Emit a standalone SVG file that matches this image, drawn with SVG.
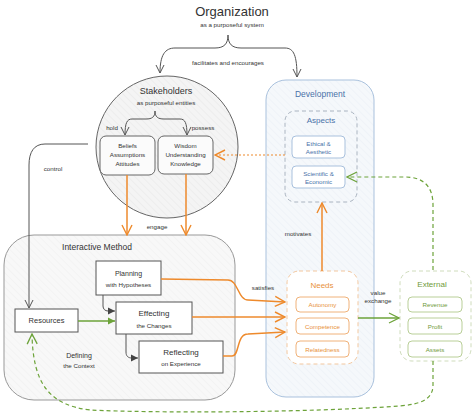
<svg xmlns="http://www.w3.org/2000/svg" width="474" height="419" viewBox="0 0 474 419">
<defs>
<style>
text{font-family:"Liberation Sans","DejaVu Sans",sans-serif;fill:#333;text-anchor:middle}
.t7{font-size:7px}
.t6{font-size:6.2px}
.t9{font-size:9px}
.box{fill:#fff;stroke:#555;stroke-width:1}
.gbox{fill:#fbfbfb;stroke:#666;stroke-width:1}
.obox{fill:#fff;stroke:#f0b27a;stroke-width:1}
.grbox{fill:#fff;stroke:#b9cf98;stroke-width:1}
.odash{fill:#fff;stroke:#f3c79e;stroke-width:1;stroke-dasharray:4 3}
.grdash{fill:#fff;stroke:#cfdcbc;stroke-width:1;stroke-dasharray:4 3}
.adash{fill:none;stroke:#aab4c0;stroke-width:1;stroke-dasharray:4 3}
.ln{fill:none;stroke:#555;stroke-width:1}
.or{fill:none;stroke:#ee8a2c;stroke-width:1.5}
.gr{fill:none;stroke:#6da33a;stroke-width:1.5}
.grd{fill:none;stroke:#6da33a;stroke-width:1.2;stroke-dasharray:4 3}
.ord{fill:none;stroke:#ee8a2c;stroke-width:1.2;stroke-dasharray:2 2}
.ot{fill:#e8913a}
.gt{fill:#6f9a3a}
.bt{fill:#4a72a8}
</style>
<pattern id="hatch" patternUnits="userSpaceOnUse" width="5" height="5" patternTransform="rotate(-45)">
<rect width="5" height="5" fill="#f4f4f4"/>
<line x1="0" y1="0" x2="0" y2="5" stroke="#e6e6e6" stroke-width="1"/>
</pattern>
<pattern id="hatchB" patternUnits="userSpaceOnUse" width="5" height="5" patternTransform="rotate(-45)">
<rect width="5" height="5" fill="#f5f8fb"/>
<line x1="0" y1="0" x2="0" y2="5" stroke="#e9eef5" stroke-width="1"/>
</pattern>
<pattern id="hatchL" patternUnits="userSpaceOnUse" width="5" height="5" patternTransform="rotate(-45)">
<rect width="5" height="5" fill="#f8f8f8"/>
<line x1="0" y1="0" x2="0" y2="5" stroke="#efefef" stroke-width="1"/>
</pattern>
<marker id="aG" markerWidth="10" markerHeight="10" refX="9" refY="5" orient="auto" markerUnits="userSpaceOnUse"><path d="M1,1 L9,5 L1,9" fill="none" stroke="#555" stroke-width="1"/></marker>
<marker id="aO" markerWidth="12" markerHeight="12" refX="11" refY="6" orient="auto" markerUnits="userSpaceOnUse"><path d="M1,1 L11,6 L1,11" fill="none" stroke="#ee8a2c" stroke-width="1.4"/></marker>
<marker id="aGr" markerWidth="12" markerHeight="12" refX="11" refY="6" orient="auto" markerUnits="userSpaceOnUse"><path d="M1,1 L11,6 L1,11" fill="none" stroke="#6da33a" stroke-width="1.3"/></marker>
<marker id="fG" markerWidth="8" markerHeight="8" refX="7" refY="4" orient="auto" markerUnits="userSpaceOnUse"><path d="M0,0.5 L7,4 L0,7.5 Z" fill="#444"/></marker>
<marker id="fGr" markerWidth="8" markerHeight="8" refX="7" refY="4" orient="auto" markerUnits="userSpaceOnUse"><path d="M0,0.5 L7,4 L0,7.5 Z" fill="#6da33a"/></marker>
</defs>
<rect width="474" height="419" fill="#fff"/>

<g id="organization">
<text x="232" y="16" style="font-size:13px">Organization</text>
<text x="232" y="27" class="t6">as a purposeful system</text>
</g>

<g id="interactive-method">
<rect x="4" y="235" width="231" height="165" rx="30" fill="url(#hatchL)" stroke="#999" stroke-width="1"/>
<text x="97" y="250" style="font-size:8.5px">Interactive Method</text>
<text x="79" y="358" class="t7">Defining</text>
<text x="79" y="368" class="t6">the Context</text>
</g>

<g id="development">
<rect x="266" y="80" width="108" height="317" rx="20" fill="url(#hatchB)" stroke="#a9c1dd" stroke-width="1"/>
<text x="320" y="97" class="bt" style="font-size:8.5px">Development</text>
</g>

<g id="stakeholders">
<circle cx="167" cy="147" r="71" fill="url(#hatch)" stroke="#666" stroke-width="1"/>
<text x="166" y="94" style="font-size:9px">Stakeholders</text>
<text x="166" y="105" class="t6">as purposeful entities</text>
<text x="112" y="130" class="t6">hold</text>
<text x="203" y="130" class="t6">possess</text>
</g>

<g id="beliefs">
<rect x="100" y="136" width="55" height="39" rx="6" class="gbox"/>
<text x="127.5" y="148" class="t6">Beliefs</text>
<text x="127.5" y="157" class="t6">Assumptions</text>
<text x="127.5" y="166" class="t6">Attitudes</text>
</g>
<g id="wisdom">
<rect x="158" y="136" width="55" height="38" rx="6" class="gbox"/>
<text x="185.5" y="148" class="t6">Wisdom</text>
<text x="185.5" y="157" class="t6">Understanding</text>
<text x="185.5" y="166" class="t6">Knowledge</text>
</g>

<g id="planning">
<rect x="96" y="261" width="65" height="34" class="box"/>
<text x="128.5" y="276" class="t7">Planning</text>
<text x="128.5" y="287" class="t6">with Hypotheses</text>
</g>
<g id="effecting">
<rect x="116" y="302" width="76" height="32" class="box"/>
<text x="154" y="316" style="font-size:8px">Effecting</text>
<text x="154" y="328" class="t6">the Changes</text>
</g>
<g id="reflecting">
<rect x="139" y="341" width="84" height="32" class="box"/>
<text x="181" y="355" style="font-size:8px">Reflecting</text>
<text x="181" y="366" class="t6">on Experience</text>
</g>
<g id="resources">
<rect x="15" y="309" width="63" height="23" class="box"/>
<text x="46.5" y="323" style="font-size:7.5px">Resources</text>
</g>

<g id="aspects">
<rect x="285" y="111" width="72" height="91" rx="10" class="adash"/>
<text x="321" y="123" class="bt" style="font-size:8px">Aspects</text>
</g>
<g id="ethical">
<rect x="292" y="136" width="53" height="22" rx="4" fill="#fff" stroke="#a9c1dd"/>
<text x="318.5" y="145.5" class="t6 bt">Ethical &amp;</text>
<text x="318.5" y="154" class="t6 bt">Aesthetic</text>
</g>
<g id="scientific">
<rect x="292" y="166" width="53" height="22" rx="4" fill="#fff" stroke="#a9c1dd"/>
<text x="318.5" y="175.5" class="t6 bt">Scientific &amp;</text>
<text x="318.5" y="184" class="t6 bt">Economic</text>
</g>

<g id="needs">
<rect x="287" y="271" width="71" height="93" rx="12" class="odash"/>
<text x="322" y="288" class="ot" style="font-size:8px">Needs</text>
</g>
<g id="autonomy"><rect x="296" y="297" width="53" height="15" rx="4" class="obox"/><text x="322.5" y="307" class="t6 ot">Autonomy</text></g>
<g id="competence"><rect x="296" y="318" width="53" height="16" rx="4" class="obox"/><text x="322.5" y="328.5" class="t6 ot">Competence</text></g>
<g id="relatedness"><rect x="296" y="341" width="53" height="16" rx="4" class="obox"/><text x="322.5" y="351.5" class="t6 ot">Relatedness</text></g>

<g id="external">
<rect x="400" y="271" width="71" height="90" rx="12" class="grdash"/>
<text x="432" y="287" class="gt" style="font-size:8px">External</text>
</g>
<g id="revenue"><rect x="408" y="297" width="54" height="15" rx="4" class="grbox"/><text x="435" y="307" class="t6 gt">Revenue</text></g>
<g id="profit"><rect x="408" y="318" width="54" height="16" rx="4" class="grbox"/><text x="435" y="328.5" class="t6 gt">Profit</text></g>
<g id="assets"><rect x="408" y="341" width="54" height="16" rx="4" class="grbox"/><text x="435" y="351.5" class="t6 gt">Assets</text></g>

<g id="connectors">
<path class="ln" d="M228,35 C228,44 224,48 215,48 L175,48 C165,48 160,55 160,73" marker-end="url(#aG)"/>
<path class="ln" d="M228,35 C228,44 232,48 241,48 L285,48 C294,48 297,56 297,77" marker-end="url(#aG)"/>
<text x="228" y="65" class="t6">facilitates and encourages</text>
<path class="ln" d="M155,111 C155,117 152,119 146,119 L132,119 C127,119 125,123 125,135" marker-end="url(#aG)"/>
<path class="ln" d="M155,111 C155,117 158,119 164,119 L180,119 C185,119 187,123 187,135" marker-end="url(#aG)"/>
<path class="ln" d="M88,144 L45,144 C34,144 29,152 29,165 L29,308" marker-end="url(#aG)"/>
<text x="53" y="171" class="t6">control</text>
<path class="or" d="M127,175 L127,235" marker-end="url(#aO)"/>
<path class="or" d="M186,174 L186,235" marker-end="url(#aO)"/>
<text x="157" y="229" class="t6">engage</text>
<path class="ln" d="M103,295 L103,306 C103,309 105,311 108,311 L115,311" marker-end="url(#fG)"/>
<path class="ln" d="M126,334 L126,352 C126,356 128,358 132,358 L138,358" marker-end="url(#fG)"/>
<path class="gr" d="M78,321 L115,321" marker-end="url(#fGr)"/>
<path class="or" d="M161,279 L228,280 C238,280 238,300 248,300 L285,302" marker-end="url(#aO)"/>
<path class="or" d="M192,317 L285,317" marker-end="url(#aO)"/>
<path class="or" d="M223,356 L232,356 C240,356 236,334 248,334 L285,332" marker-end="url(#aO)"/>
<text x="263" y="290" class="t6">satisfies</text>
<path class="or" d="M322,271 L322,203" marker-end="url(#aO)"/>
<text x="298" y="236" class="t6">motivates</text>
<path class="ord" d="M285,155 L215,155" marker-end="url(#aO)"/>
<path class="gr" d="M358,318 L399,318" marker-end="url(#aGr)"/>
<text x="378" y="295" class="t6">value</text>
<text x="378" y="303" class="t6">exchange</text>
<path class="grd" d="M433,270 L433,205 C433,185 422,177 405,177 L347,177" marker-end="url(#aGr)"/>
<path class="grd" d="M433,361 L433,385 C433,400 420,404 400,406 C300,413 150,413 90,410 C50,405 33,385 32,334" marker-end="url(#aGr)"/>
</g>
</svg>
